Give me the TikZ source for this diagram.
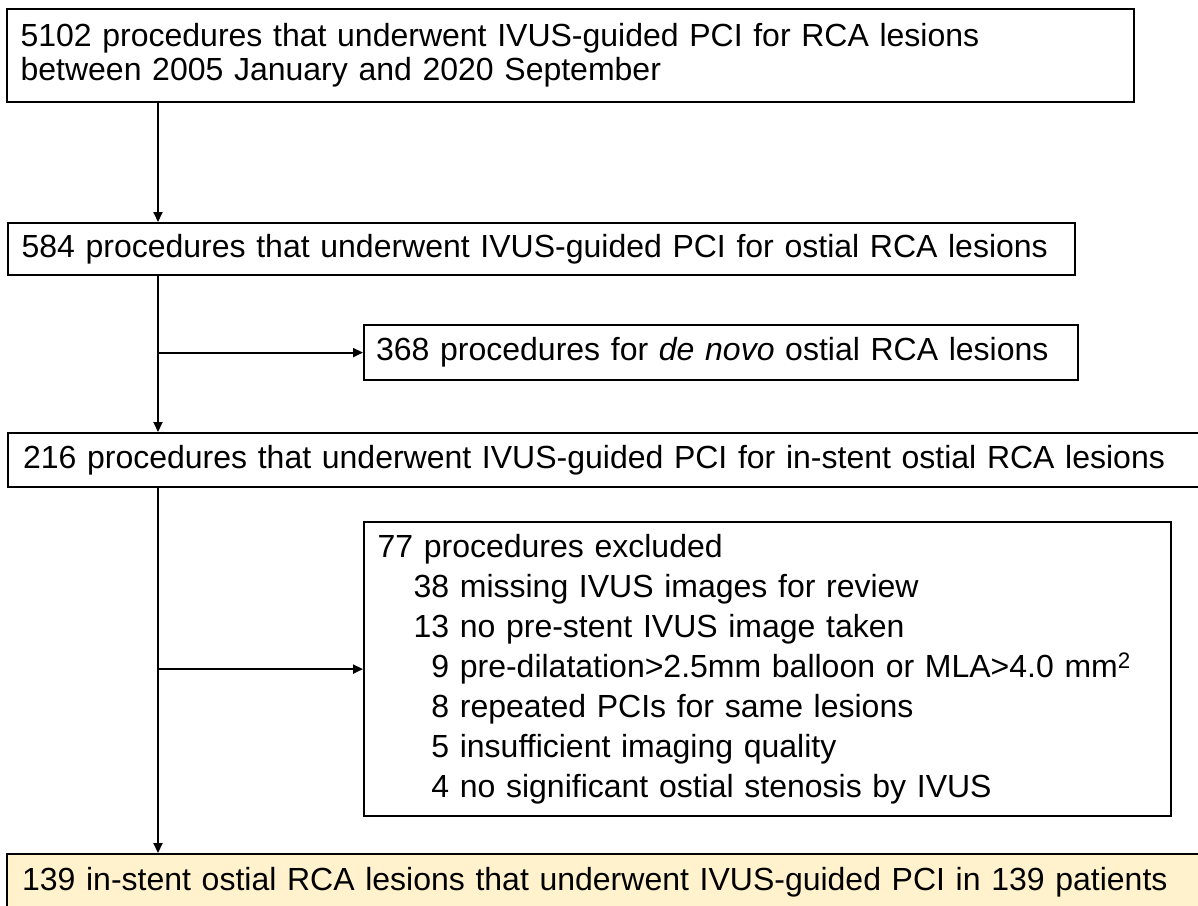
\documentclass[tikz,border=0pt]{standalone}
\usepackage{fontspec}
\setmainfont{Liberation Sans}
\usetikzlibrary{arrows.meta}
\definecolor{cream}{RGB}{255,242,204}
\begin{document}
\begin{tikzpicture}[x=1pt,y=-1pt,
  box/.style={draw=black, line width=2.2pt, rectangle, anchor=north west, inner xsep=9pt, inner ysep=0pt, align=left, font=\fontsize{32}{34}\selectfont},
  arr/.style={line width=2pt, -{Triangle[length=10pt,width=9pt]}},
  lnk/.style={line width=2pt}]
\useasboundingbox (0,0) rectangle (1198,905);
\clip (0,0) rectangle (1198,905);
\node[box, minimum width=1127pt, minimum height=93pt, text width=1100pt] (b1) at (6,8)
  {5102 procedures that underwent IVUS-guided PCI for RCA lesions\\between 2005 January and 2020 September};
\node[box, minimum width=1067pt, minimum height=52pt, text width=1040pt, inner xsep=12pt] (b2) at (7,222)
  {584 procedures that underwent IVUS-guided PCI for ostial RCA lesions};
\node[box, minimum width=711pt, minimum height=55pt, text width=690pt, inner xsep=12pt] (b3) at (363,324)
  {368 procedures for \textit{de novo} ostial RCA lesions};
\node[box, minimum width=1200pt, minimum height=54pt, text width=1170pt, inner xsep=11pt] (b4) at (7,432)
  {216 procedures that underwent IVUS-guided PCI for in-stent ostial RCA lesions};
\node[box, minimum width=807pt, minimum height=294pt, text width=780pt, inner xsep=12pt, font=\fontsize{32}{40}\selectfont] (b5) at (363,521)
  {77 procedures excluded\\
  \hspace*{36pt}38 missing IVUS images for review\\
  \hspace*{36pt}13 no pre-stent IVUS image taken\\
  \hspace*{36pt}\phantom{0}9 pre-dilatation>2.5mm balloon or MLA>4.0 mm\textsuperscript{2}\\
  \hspace*{36pt}\phantom{0}8 repeated PCIs for same lesions\\
  \hspace*{36pt}\phantom{0}5 insufficient imaging quality\\
  \hspace*{36pt}\phantom{0}4 no significant ostial stenosis by IVUS};
\node[box, fill=cream, minimum width=1210pt, minimum height=56pt, text width=1180pt, inner xsep=9pt] (b6) at (6,853)
  {139 in-stent ostial RCA lesions that underwent IVUS-guided PCI in 139 patients};
\coordinate (sp) at (158,0);
\draw[arr] (b1.south -| sp) -- (b2.north -| sp);
\draw[arr] (b2.south -| sp) -- (b4.north -| sp);
\draw[arr] (b4.south -| sp) -- (b6.north -| sp);
\draw[arr] (sp |- b3.west) -- (b3.west);
\draw[arr] (sp |- b5.west) -- (b5.west);
\end{tikzpicture}
\end{document}
